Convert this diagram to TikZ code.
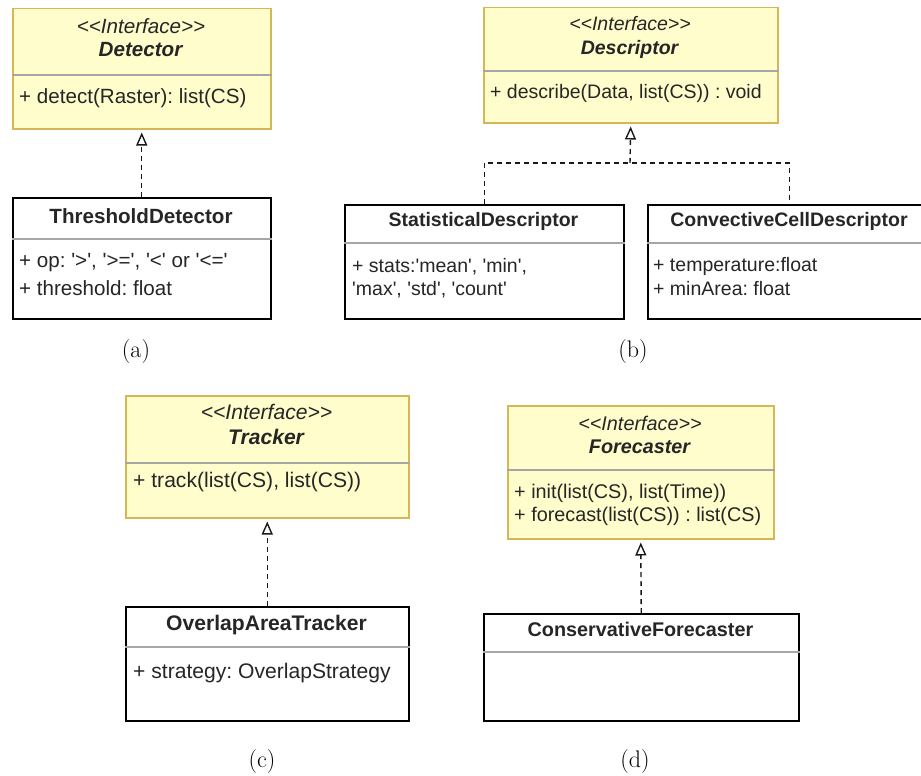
\documentclass[tikz,border=0pt]{standalone}
\usepackage{fontspec}
\usepackage{xcolor}
\usepackage{tikz}
\usetikzlibrary{arrows.meta}

\newfontfamily\umlfont{Liberation Sans}
\definecolor{ifacefill}{HTML}{FFFDCC}
\definecolor{ifacedraw}{HTML}{D6B656}

\tikzset{
	ifacebox/.style={rectangle, draw=ifacedraw, fill=ifacefill, line width=1.5pt, inner sep=0pt, anchor=north west},
	classbox/.style={rectangle, draw=black, fill=white, line width=1.5pt, inner sep=0pt, anchor=north west},
	sepline/.style={draw=black!35, line width=1.6pt},
	ctext/.style={inner sep=0pt, text=black!85},
	member/.style={anchor=west, inner sep=0pt, text=black!85},
	dashline/.style={draw=black!90, line width=1.4pt, dash pattern=on 5pt off 4pt},
	realize/.style={dashline, -{Triangle[open, length=13pt, width=11pt, line width=1.4pt]}, shorten >=3pt},
	subcap/.style={font=\fontsize{24}{29}\selectfont, inner sep=0pt}
}

\begin{document}
\begin{tikzpicture}[x=1pt, y=-1pt]
	\useasboundingbox (0,0) rectangle (921,776);

	% (a)
	\begin{scope}[font=\umlfont\fontsize{20.6}{25}\selectfont\frenchspacing]
		\node[ifacebox, minimum width=258pt, minimum height=120pt] (det) at (12,8) {};
		\draw[sepline] (det.west |- 0,75) -- (det.east |- 0,75);
		\node[ctext] (detS) at (141,26) {\textit{<<Interface>>}};
		\node[ctext] (detN) at (141,50) {\textbf{\textit{Detector}}};
		\node[member] (detM) at (19,98) {+ detect(Raster): list(CS)};

		\node[classbox, minimum width=258pt, minimum height=121pt] (thr) at (12,197) {};
		\draw[sepline] (thr.west |- 0,239) -- (thr.east |- 0,239);
		\node[ctext] (thrN) at (141,216) {\textbf{ThresholdDetector}};
		\node[member] (thrA) at (19,263) {+ op: '>', '>=', '<' or '<='};
		\node[member] (thrB) at (19,288) {+ threshold: float};

		\draw[realize] (thr.north) -- (det.south);
	\end{scope}

	% (b)
	\begin{scope}[font=\umlfont\fontsize{19.5}{24}\selectfont\frenchspacing]
		\node[ifacebox, minimum width=294pt, minimum height=115pt] (des) at (483,7) {};
		\draw[sepline] (des.west |- 0,71) -- (des.east |- 0,71);
		\node[ctext] (desS) at (630,24) {\textit{<<Interface>>}};
		\node[ctext] (desN) at (630,49) {\textbf{\textit{Descriptor}}};
		\node[member] (desM) at (490,93) {+ describe(Data, list(CS)) : void};

		\node[classbox, minimum width=279pt, minimum height=114pt] (sta) at (344,204) {};
		\draw[sepline] (sta.west |- 0,243) -- (sta.east |- 0,243);
		\node[ctext] (staN) at (483.5,221) {\textbf{StatisticalDescriptor}};
		\node[member] (staA) at (352,267) {+ stats:'mean', 'min',};
		\node[member] (staB) at (352,290) {'max', 'std', 'count'};

		\node[classbox, minimum width=284pt, minimum height=114pt] (con) at (647,204) {};
		\draw[sepline] (con.west |- 0,243) -- (con.east |- 0,243);
		\node[ctext] (conN) at (789,221) {\textbf{ConvectiveCellDescriptor}};
		\node[member] (conA) at (653,266) {+ temperature:float};
		\node[member] (conB) at (653,289) {+ minArea: float};

		\coordinate (djoin) at (630,163);
		\draw[dashline] (sta.north) |- (djoin) -| (con.north);
		\draw[realize] (djoin) -- (des.south);
	\end{scope}

	% (c)
	\begin{scope}[font=\umlfont\fontsize{21.1}{26}\selectfont\frenchspacing]
		\node[ifacebox, minimum width=283pt, minimum height=122pt] (trk) at (125,395) {};
		\draw[sepline] (trk.west |- 0,463) -- (trk.east |- 0,463);
		\node[ctext] (trkS) at (266.5,412) {\textit{<<Interface>>}};
		\node[ctext] (trkN) at (266.5,437) {\textbf{\textit{Tracker}}};
		\node[member] (trkM) at (133,482) {+ track(list(CS), list(CS))};

		\node[classbox, minimum width=283pt, minimum height=114pt] (ovl) at (125,606) {};
		\draw[sepline] (ovl.west |- 0,647) -- (ovl.east |- 0,647);
		\node[ctext] (ovlN) at (266.5,625) {\textbf{OverlapAreaTracker}};
		\node[member] (ovlA) at (133,673) {+ strategy: OverlapStrategy};

		\draw[realize] (ovl.north) -- (trk.south);
	\end{scope}

	% (d)
	\begin{scope}[font=\umlfont\fontsize{19.8}{24}\selectfont\frenchspacing]
		\node[ifacebox, minimum width=266pt, minimum height=133pt] (fct) at (507,405) {};
		\draw[sepline] (fct.west |- 0,470) -- (fct.east |- 0,470);
		\node[ctext] (fctS) at (640,423) {\textit{<<Interface>>}};
		\node[ctext] (fctN) at (640,447) {\textbf{\textit{Forecaster}}};
		\node[member] (fctA) at (514,493) {+ init(list(CS), list(Time))};
		\node[member] (fctB) at (514,516) {+ forecast(list(CS)) : list(CS)};

		\node[classbox, minimum width=315pt, minimum height=107pt] (csv) at (483,613) {};
		\draw[sepline] (csv.west |- 0,652) -- (csv.east |- 0,652);
		\node[ctext] (csvN) at (640.5,629) {\textbf{ConservativeForecaster}};

		\draw[realize] (csv.north) -- (fct.south);
	\end{scope}

	% sub-captions
	\foreach \cx/\cy/\lab in {136/352/a, 633/352/b, 262/762/c, 635/762/d}
		\node[subcap] (cap\lab) at (\cx,\cy) {(\lab)};
\end{tikzpicture}
\end{document}
